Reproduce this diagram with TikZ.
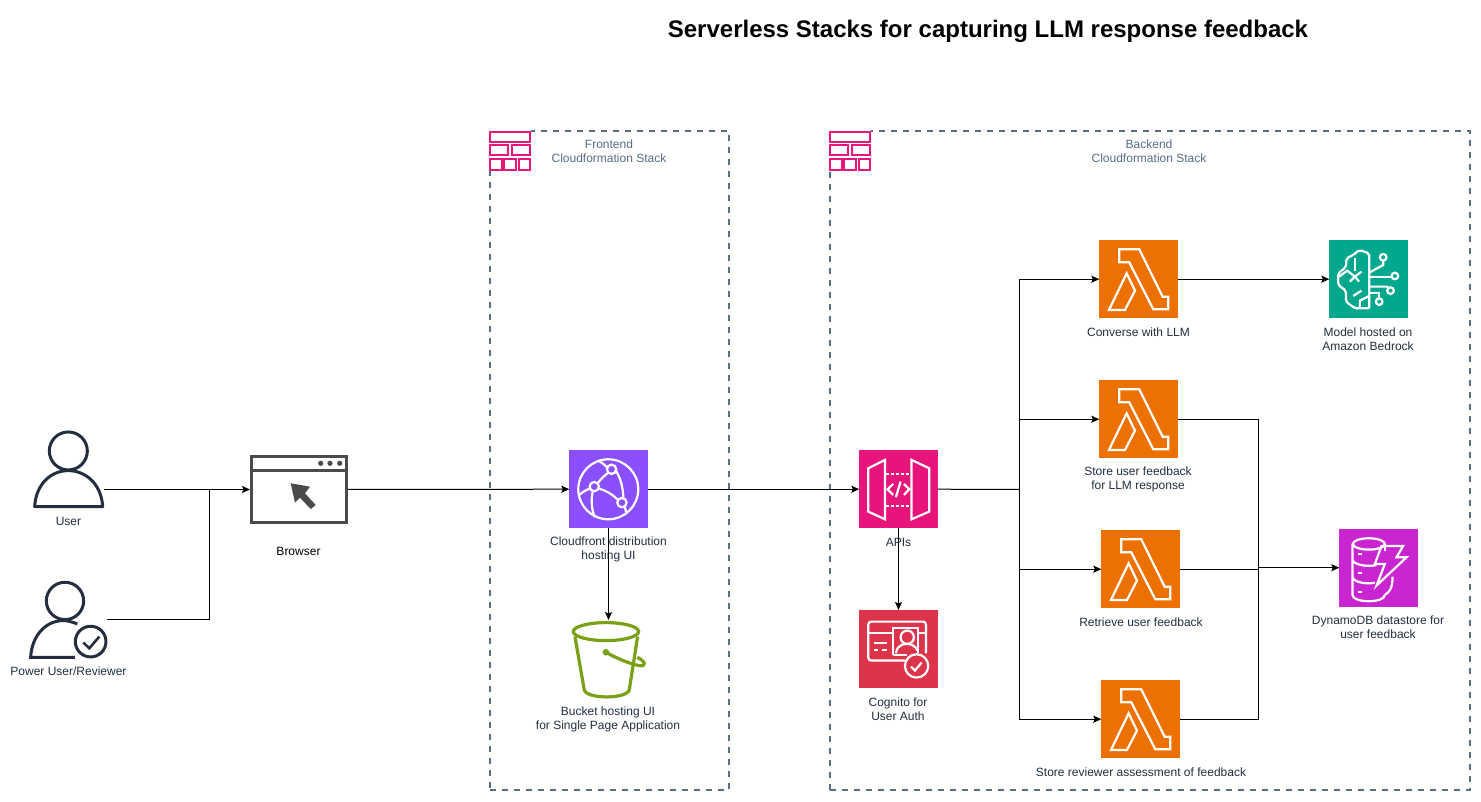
\documentclass[tikz,border=0pt]{standalone}
\usepackage{fontspec}
\setmainfont{Liberation Sans}
\usetikzlibrary{arrows.meta,calc}
\definecolor{ink}{HTML}{232F3E}
\definecolor{slate}{HTML}{5A6C86}
\definecolor{pinkaws}{HTML}{E7157B}
\definecolor{lambdac}{HTML}{ED7100}
\definecolor{cfc}{HTML}{8C4FFF}
\definecolor{cogc}{HTML}{DD344C}
\definecolor{bedc}{HTML}{01A88D}
\definecolor{ddbc}{HTML}{C925D1}
\definecolor{s3c}{HTML}{7AA116}
\definecolor{brw}{HTML}{4B4B4B}
\tikzset{
  lbl/.style={font=\fontsize{12}{14}\selectfont,align=center,text=ink,inner sep=0pt},
  stacklbl/.style={lbl,text=slate},
  tile/.style={minimum width=78.4pt,minimum height=78.4pt,inner sep=0pt,outer sep=0pt,draw=none,fill=#1},
  stackbox/.style={draw=slate,line width=2pt,dash pattern=on 6pt off 6pt},
  conn/.style={draw=black,line width=1pt,-{Stealth[length=8pt,width=7pt,inset=1.5pt]}},
  wire/.style={draw=black,line width=1pt},
  holder/.style={inner sep=0pt,outer sep=0pt,draw=none},
  wl/.style={draw=white,line width=2.2pt,line join=miter},
  brick/.style={draw=pinkaws,line width=2.2pt,fill=white},
  lambdaicon/.pic={\begin{scope}[x=.3333pt,y=-.3333pt,shift={(-28,-30)}]
    \draw[wl] (88,58)--(148,58)--(218,200)--(235,200)--(235,238)--(190,238)--(118,97)--(88,97)--cycle;
    \draw[wl] (110,130)--(135,182)--(105,240)--(57,240)--cycle;
  \end{scope}},
  bricks/.pic={\begin{scope}[x=.3333pt,y=-.3333pt,shift={(-30,-33)}]
    \fill[white] (28,30) rectangle (152,152);
    \draw[brick] (31,35) rectangle (149,65);
    \draw[brick] (31,76) rectangle (85,106);
    \draw[brick] (95,76) rectangle (149,106);
    \draw[brick] (31,118) rectangle (65,149);
    \draw[brick] (73,118) rectangle (108,149);
    \draw[brick] (116,118) rectangle (149,149);
  \end{scope}},
}
\begin{document}
\begin{tikzpicture}[x=1pt,y=-1pt]
\useasboundingbox (0,0) rectangle (1481,802);
\fill[white] (0,0) rectangle (1481,802);

\node[font=\bfseries\fontsize{24}{28}\selectfont,inner sep=0pt] (title) at (988,31.5) {Serverless Stacks for capturing LLM response feedback};

% stacks
\node[stackbox,minimum width=239pt,minimum height=659pt,inner sep=0pt,outer sep=0pt] (front) at (609.5,460.5) {};
\node[stackbox,minimum width=640pt,minimum height=659pt,inner sep=0pt,outer sep=0pt] (back) at (1150,460.5) {};
\pic at (490,131) {bricks};
\pic at (830,131) {bricks};
\node[stacklbl] (frontlbl) at (609,151) {Frontend\\Cloudformation Stack};
\node[stacklbl] (backlbl) at (1149,151) {Backend\\Cloudformation Stack};

% tiles
\node[tile=cfc] (cf) at (608.5,489.2) {};
\node[tile=pinkaws] (api) at (898.5,489.2) {};
\node[tile=cogc] (cog) at (898.5,649.2) {};
\node[tile=lambdac] (l1) at (1138.5,279.2) {};
\node[tile=lambdac] (l2) at (1138.5,419.2) {};
\node[tile=lambdac] (l3) at (1140.5,569.2) {};
\node[tile=lambdac] (l4) at (1140.5,719.2) {};
\node[tile=bedc] (bed) at (1368.5,279.2) {};
\node[tile=ddbc] (ddb) at (1378.5,567.7) {};
\pic at (l1.north west) {lambdaicon};
\pic at (l2.north west) {lambdaicon};
\pic at (l3.north west) {lambdaicon};
\pic at (l4.north west) {lambdaicon};

% user
\node[holder,minimum width=71pt,minimum height=79pt] (user) at (68.5,470.5) {};
\begin{scope}[x=.3333pt,y=-.3333pt,shift={(0,1260)}]
  \draw[ink,line width=3pt] (205,93) circle[radius=57];
  \draw[ink,line width=3pt,line join=round] (104,260) .. controls (108,190) and (155,152) .. (205,152) .. controls (255,152) and (304,190) .. (308,260) -- cycle;
  % power user
  \draw[ink,line width=3pt] (195,543) circle[radius=56];
  \draw[ink,line width=3pt] (232,612) .. controls (215,605) and (200,602) .. (190,602) .. controls (135,602) and (95,650) .. (92,712) -- (225,712);
  \draw[ink,line width=3pt] (272,665) circle[radius=46];
  \draw[ink,line width=2.6pt] (250,668)--(268,685)--(298,650);
\end{scope}
\node[holder,minimum width=78pt,minimum height=78pt] (power) at (68,619.5) {};

% browser
\node[holder,draw=brw,line width=3pt,minimum width=94.7pt,minimum height=66pt] (browser) at (298.85,489.5) {};
\draw[brw,line width=3pt] (browser.north west |- 0,470.7) -- (browser.north east |- 0,470.7);
\foreach \xx in {320.7,330,339.7} \fill[brw] (\xx,463.3) circle[radius=2.6];
\fill[brw] (290.7,483.3)--(310,486.7)--(305,493.3)--(315.7,505)--(310.7,509)--(300,497.7)--(295,502.7)--cycle;

% cloudfront icon
\begin{scope}[x=.3333pt,y=-.3333pt,shift={(1590,1320)}]
  \draw[wl] (235,148) circle[radius=90];
  \foreach \p in {(245,88),(193,140),(276,188)} \draw[wl] \p circle[radius=14];
  \draw[wl] (205,62) .. controls (215,68) and (222,72) .. (231,82);
  \draw[wl] (234,99) .. controls (222,108) and (212,118) .. (204,129);
  \draw[wl] (258,92) .. controls (272,115) and (280,145) .. (280,174);
  \draw[wl] (208,146) .. controls (228,152) and (248,163) .. (263,179);
  \draw[wl] (180,146) .. controls (168,150) and (158,156) .. (148,165);
  \draw[wl] (188,155) .. controls (183,185) and (185,210) .. (195,232);
  \draw[wl] (285,202) .. controls (287,207) and (288,212) .. (289,218);
\end{scope}

% bucket
\node[holder,minimum width=75pt,minimum height=78pt] (bucket) at (608.5,659) {};
\begin{scope}[x=.3333pt,y=-.3333pt,shift={(1590,1320)}]
  \draw[s3c,line width=3.2pt] (228,575) ellipse[x radius=98,y radius=27];
  \draw[s3c,line width=3.2pt] (135,590) -- (163,750) .. controls (170,778) and (290,778) .. (298,750) -- (323,590);
  \fill[s3c] (228,637) circle[radius=10];
  \draw[s3c,line width=3.2pt] (228,637) .. controls (260,655) and (300,672) .. (328,677) .. controls (350,680) and (348,665) .. (322,652);
\end{scope}

% api icon
\begin{scope}[x=.3333pt,y=-.3333pt,shift={(2550,1320)}]
  \draw[wl] (55,85)--(105,60)--(105,238)--(55,215)--cycle;
  \draw[wl] (185,60)--(238,85)--(238,215)--(185,238)--cycle;
  \draw[wl,dash pattern=on 3pt off 2pt] (108,102)--(183,102);
  \draw[wl,dash pattern=on 3pt off 2pt] (108,197)--(183,197);
  \draw[wl] (130,132)--(113,148)--(130,165);
  \draw[wl] (162,132)--(178,148)--(162,165);
  \draw[wl] (152,125)--(138,172);
\end{scope}

% cognito icon
\begin{scope}[x=.3333pt,y=-.3333pt,shift={(2550,1320)}]
  \draw[wl,rounded corners=3pt] (165,662)--(55,662)--(55,545)--(228,545)--(228,640);
  \draw[wl] (55,578)--(130,578);
  \draw[wl] (205,578)--(228,578);
  \draw[wl] (130,645)--(130,565)--(205,565)--(205,640);
  \draw[wl] (130,645)--(170,645);
  \draw[wl] (172,592) circle[radius=20];
  \draw[wl] (138,640) .. controls (142,612) and (165,612) .. (172,612) .. controls (185,612) and (198,620) .. (203,632);
  \draw[wl] (72,610)--(112,610);
  \draw[wl] (72,630)--(85,630);
  \draw[wl] (97,630)--(112,630);
  \draw[wl,fill=cogc] (200,678) circle[radius=35];
  \draw[wl] (183,680)--(195,692)--(215,668);
\end{scope}

% bedrock icon
\begin{scope}[x=.3333pt,y=-.3333pt,shift={(3270,690)}]
  \draw[wl,rounded corners=2pt] (838,235)--(838,70)--(808,60)--(790,75)--(770,85)--(768,112)--(745,130)--(745,165)--(768,182)--(768,215)--(795,235)--(838,235);
  \draw[wl] (795,85)--(795,122);
  \draw[wl] (748,140)--(772,122)--(795,140)--(815,125);
  \draw[wl] (795,140)--(780,155);
  \draw[wl] (795,140)--(808,155);
  \draw[wl] (790,198)--(815,182);
  \draw[wl] (810,235)--(810,212)--(838,198);
  \draw[wl] (838,128)--(880,105)--(880,92);
  \draw[wl] (880,82) circle[radius=10];
  \draw[wl] (838,140)--(905,140);
  \draw[wl] (915,138) circle[radius=10];
  \draw[wl] (838,170)--(892,170)--(895,175);
  \draw[wl] (902,182) circle[radius=10];
  \draw[wl] (838,190)--(868,190)--(868,205);
  \draw[wl] (868,215) circle[radius=10];
\end{scope}

% dynamodb icon
\begin{scope}[x=.3333pt,y=-.3333pt,shift={(3990,1560)}]
  \draw[wl] (117,72) ellipse[x radius=48,y radius=17];
  \draw[wl] (68,72)--(68,225) .. controls (68,250) and (165,250) .. (165,225);
  \draw[wl] (165,72)--(165,92);
  \draw[wl] (68,120) .. controls (72,135) and (115,142) .. (140,135);
  \draw[wl] (68,172) .. controls (72,187) and (110,194) .. (135,188);
  \draw[wl] (165,225) .. controls (180,215) and (188,205) .. (188,170);
  \draw[wl] (85,103)--(97,103);
  \draw[wl] (85,160)--(97,160);
  \draw[wl] (85,215)--(97,215);
  \draw[wl] (155,78)--(220,78)--(200,112)--(230,112)--(140,197)--(165,132)--(135,132)--cycle;
\end{scope}

% labels
\node[lbl] (tuser) at (68.5,521.5) {User};
\node[lbl] (tpower) at (68.5,671.5) {Power User/Reviewer};
\node[lbl,text=black] (tbrowser) at (298.5,551.5) {Browser};
\node[lbl] (tcf) at (608.5,549.5) {Cloudfront distribution\\hosting UI};
\node[lbl] (tbucket) at (608,719) {Bucket hosting UI\\for Single Page Application};
\node[lbl] (tapi) at (898.5,542) {APIs};
\node[lbl] (tcog) at (898,709) {Cognito for\\User Auth};
\node[lbl] (tl1) at (1138.5,332) {Converse with LLM};
\node[lbl] (tl2) at (1138,479.5) {Store user feedback\\ for LLM response};
\node[lbl] (tl3) at (1141,622) {Retrieve user feedback};
\node[lbl] (tl4) at (1141,772) {Store reviewer assessment of feedback};
\node[lbl] (tbed) at (1368,339) {Model hosted on\\Amazon Bedrock};
\node[lbl] (tddb) at (1378,627) {DynamoDB datastore for\\user feedback};

% connectors
\coordinate (jn) at (209.7,489.5);
\coordinate (jb) at (1019,489.5);
\coordinate (jd) at (1258.5,567.7);
\draw[conn,shorten >=1.5pt] (user.east |- browser.west) -- (browser.west);
\draw[wire] (power.east) -| (jn);
\draw[conn,shorten <=1.5pt] (browser.east) -- (cf.west);
\draw[conn] (cf.south) -- (bucket.north);
\draw[conn] (cf.east) -- (api.west);
\draw[conn] (api.south) -- (cog.north);
\draw[wire] (api.east) -- (jb);
\draw[conn] (jb) |- (l1.west);
\draw[conn] (jb) |- (l2.west);
\draw[conn] (jb) |- (l3.west);
\draw[conn] (jb) |- (l4.west);
\draw[conn] (l1.east) -- (bed.west);
\draw[wire] (l2.east) -| (jd);
\draw[wire] (l3.east) -| (jd);
\draw[wire] (l4.east) -| (jd);
\draw[conn] (jd) -- (ddb.west);
\end{tikzpicture}
\end{document}
